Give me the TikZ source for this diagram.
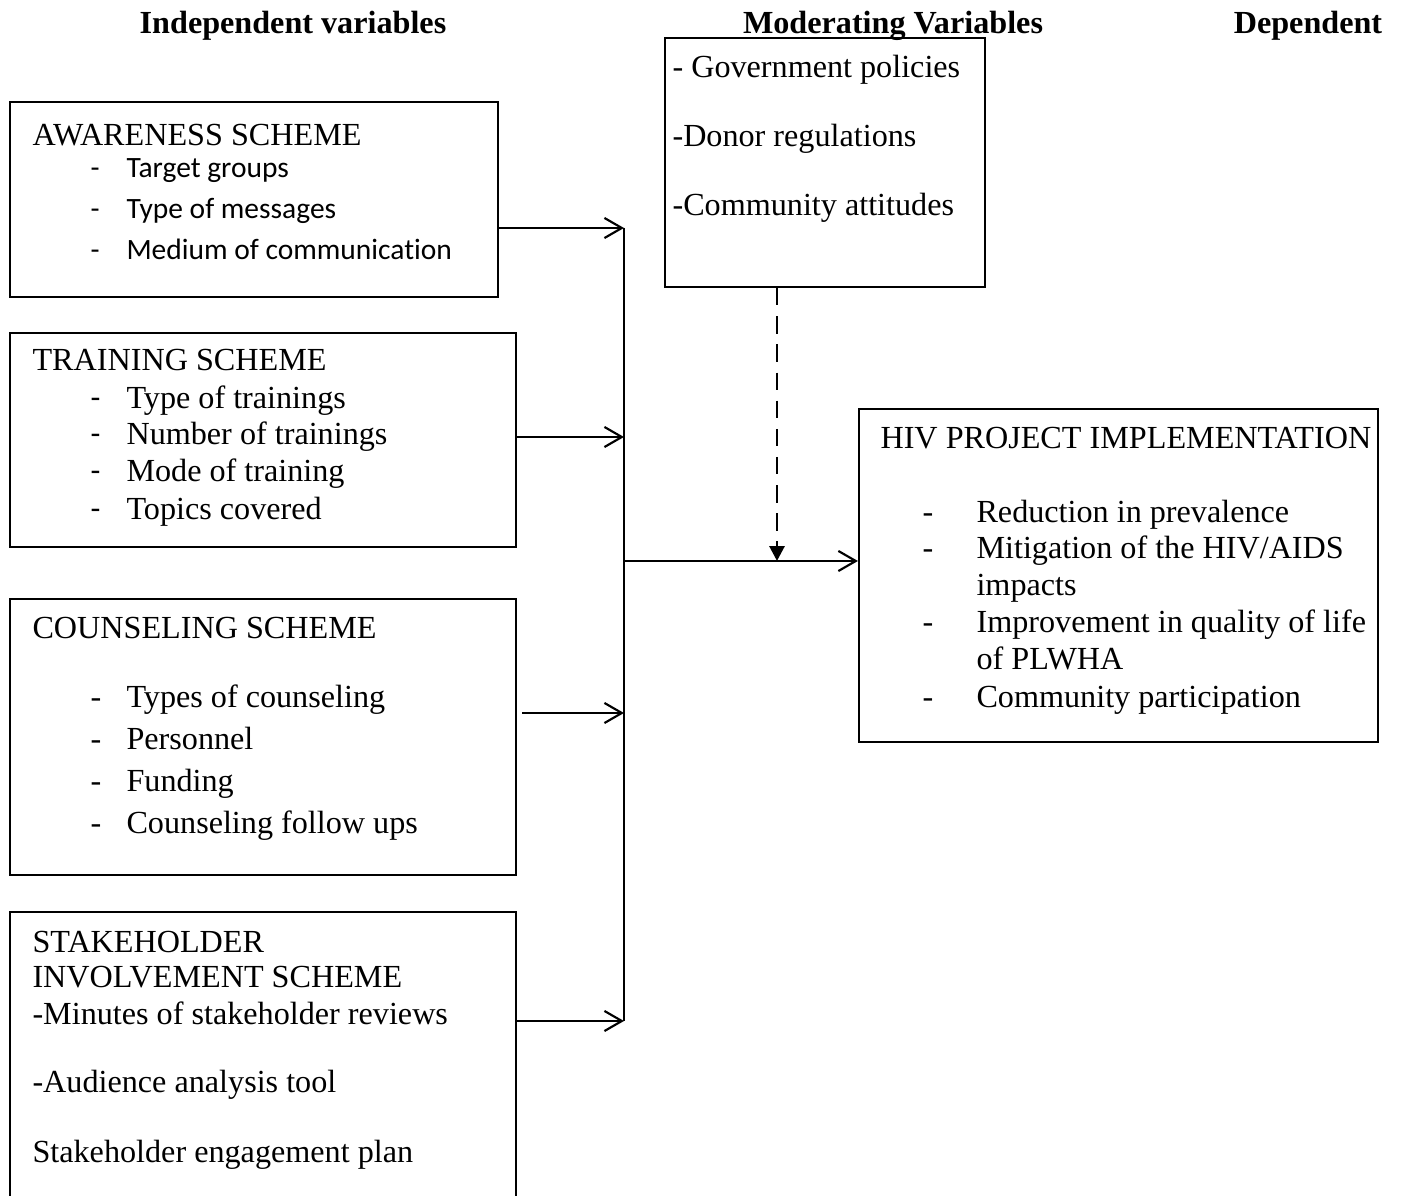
\documentclass[tikz,border=0pt]{standalone}
\usepackage{fontspec}
\setmainfont{Liberation Serif}
\newfontfamily\calib[Ligatures=NoCommon]{Carlito}
\usetikzlibrary{arrows.meta,fit}
\begin{document}
\begin{tikzpicture}[x=0.373pt,y=-0.373pt,
  box/.style={draw,line width=0.8pt,inner sep=0pt},
  txt/.style={anchor=base west,inner sep=0pt,font=\fontsize{12}{14}\selectfont},
  ctxt/.style={anchor=base west,inner sep=0pt,font=\calib\fontsize{11}{13}\selectfont},
  hdr/.style={anchor=base,inner sep=0pt,font=\bfseries\fontsize{12}{14}\selectfont},
  arr/.style={line width=0.8pt,-{Straight Barb[length=6.5pt,width=7.5pt,line width=0.8pt]}},
  darr/.style={line width=1.1pt,dash pattern=on 6.5pt off 4pt,-{Triangle[length=5.5pt,width=5.5pt]}}]
\useasboundingbox (0,0) rectangle (1409,1196);
\clip (0,0) rectangle (1409,1196);
% headers
\node[hdr] (h1) at (293,34) {Independent variables};
\node[hdr] (h3) at (1308,34) {Dependent};
% boxes
\node[box,fit={(665,38)(985,287)}] (mod) {};
\node[hdr,fill=none] (h2) at (893,34) {Moderating Variables};
\node[box,fit={(10,102)(498,297)}] (aw) {};
\node[box,fit={(10,333)(516,547)}] (tr) {};
\node[box,fit={(10,599)(516,875)}] (co) {};
\node[box,fit={(10,912)(516,1220)}] (sh) {};
\node[box,fit={(859,409)(1378,742)}] (hiv) {};
% moderating texts
\node[txt] (m1) at (672,78) {- Government policies};
\node[txt] (m2) at (672,147) {-Donor regulations};
\node[txt] (m3) at (672,216) {-Community attitudes};
% awareness
\node[txt] (a0) at (32,146) {AWARENESS SCHEME};
\foreach \y/\t [count=\i] in {178/Target groups,219/Type of messages,260/Medium of communication}{
  \node[ctxt] (ad\i) at (90,\y) {-};
  \node[ctxt] (a\i) at (126,\y) {\t};
}
% training
\node[txt] (t0) at (32,371) {TRAINING SCHEME};
\foreach \y/\t [count=\i] in {409/Type of trainings,445/Number of trainings,482/Mode of training,520/Topics covered}{
  \node[ctxt,font=\calib\fontsize{12}{14}\selectfont] (td\i) at (90,\y) {-};
  \node[txt] (t\i) at (126,\y) {\t};
}
% counseling
\node[txt] (c0) at (32,639) {COUNSELING SCHEME};
\foreach \y/\t [count=\i] in {708/Types of counseling,750/Personnel,792/Funding,834/Counseling follow ups}{
  \node[txt] (cd\i) at (90,\y) {-};
  \node[txt] (c\i) at (126,\y) {\t};
}
% stakeholder
\node[txt] (s0) at (32,953) {STAKEHOLDER};
\node[txt] (s1) at (32,988) {INVOLVEMENT SCHEME};
\node[txt] (s2) at (32,1025) {-Minutes of stakeholder reviews};
\node[txt] (s3) at (32,1093) {-Audience analysis tool};
\node[txt] (s4) at (32,1163) {Stakeholder engagement plan};
% HIV
\node[txt] (v0) at (880,449) {HIV PROJECT IMPLEMENTATION};
\node[txt] (vd1) at (922,523) {-};
\node[txt] (v1) at (976,523) {Reduction in prevalence};
\node[txt] (vd2) at (922,559) {-};
\node[txt] (v2) at (976,559) {Mitigation of the HIV/AIDS};
\node[txt] (v2b) at (976,596) {impacts};
\node[txt] (vd3) at (922,633) {-};
\node[txt] (v3) at (976,633) {Improvement in quality of life};
\node[txt] (v3b) at (976,670) {of PLWHA};
\node[txt] (vd4) at (922,708) {-};
\node[txt] (v4) at (976,708) {Community participation};
% connectors
\coordinate (b1) at (624,228);
\coordinate (b2) at (624,437);
\coordinate (b3) at (624,713);
\coordinate (b4) at (624,1021);
\coordinate (bm) at (624,561);
\coordinate (dm) at (777,561);
\draw[line width=0.8pt] (b1) -- (b4);
\draw[arr] (aw.east |- b1) -- (b1);
\draw[arr] (tr.east |- b2) -- (b2);
\draw[arr] ([xshift=5*0.373pt]co.east |- b3) -- (b3);
\draw[arr] (sh.east |- b4) -- (b4);
\draw[arr] (bm) -- (hiv.west |- bm);
\draw[darr] (mod.south -| dm) -- (dm);
\end{tikzpicture}
\end{document}
